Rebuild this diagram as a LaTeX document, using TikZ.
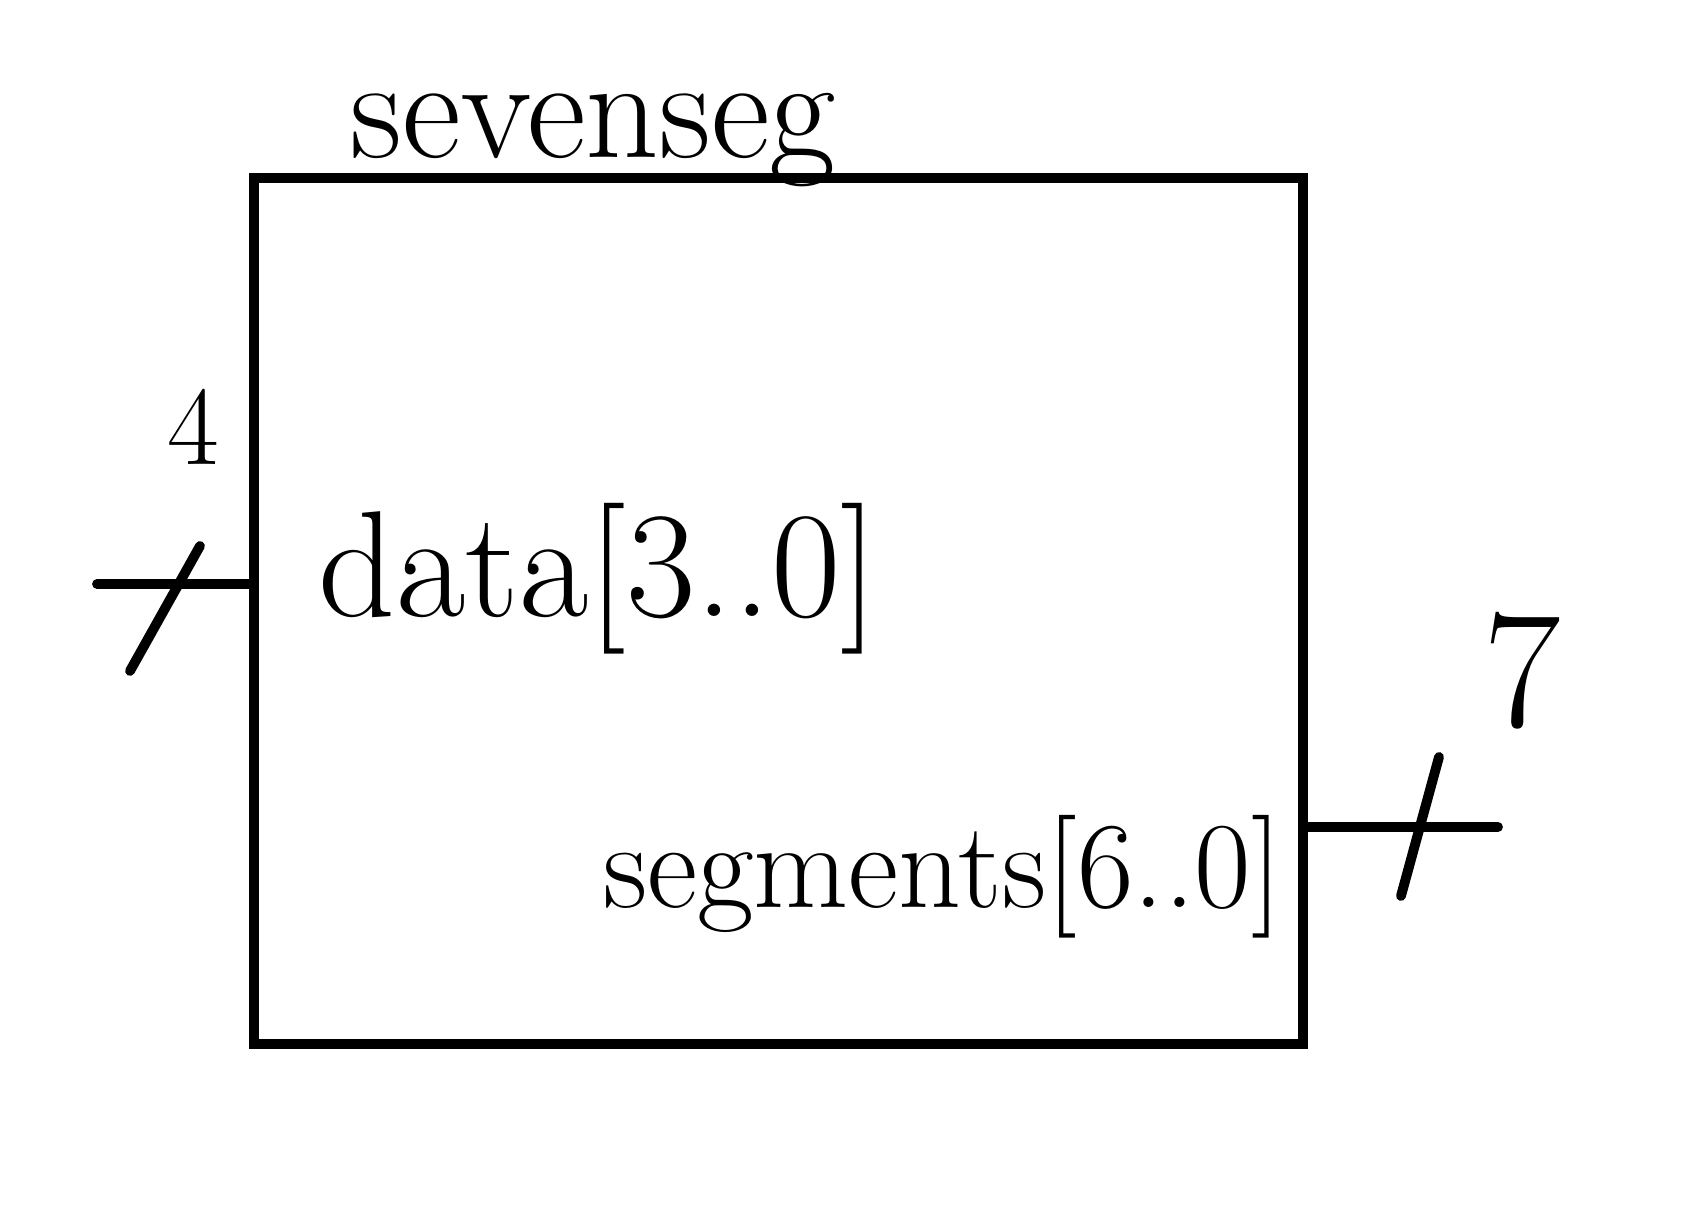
\documentclass[tikz,border=0pt]{standalone}
\usetikzlibrary{positioning}

\begin{document}
\begin{tikzpicture}[line width=2.8pt, line cap=round,
	blockbox/.style={draw, minimum width=10.49cm, minimum height=8.66cm, inner sep=0pt},
	buslbl/.style={inner sep=0pt}]
	\useasboundingbox (0,0) rectangle (16.96,12.16);

	% bloque
	\node[blockbox] (blk) at (7.785,6.05) {};
	\node[buslbl, anchor=base west, font=\fontsize{41}{48}\selectfont] (title) at (3.46,10.58) {sevenseg};

	% entrada
	\coordinate (din) at (0.97,6.32);
	\coordinate (dinslash) at (1.68,6.32);
	\draw (din) -- (blk.west |- din);
	\draw (dinslash) ++(-0.38,-0.87) -- ++(0.70,1.25);
	\node[buslbl, font=\fontsize{32}{38}\selectfont] (dinw) at (1.93,7.89) {4};
	\node[buslbl, anchor=base west, font=\fontsize{43}{50}\selectfont] (dinlbl) at (3.14,5.99) {data[3..0]};

	% salida
	\coordinate (sout) at (14.98,3.89);
	\coordinate (soutslash) at (14.22,3.89);
	\draw (blk.east |- sout) -- (sout);
	\draw (soutslash) ++(-0.21,-0.69) -- ++(0.38,1.39);
	\node[buslbl, font=\fontsize{48}{56}\selectfont] (soutw) at (15.22,5.45) {7};
	\node[buslbl, anchor=base east, font=\fontsize{35}{42}\selectfont] (soutlbl) at (12.87,3.08) {segments[6..0]};
\end{tikzpicture}
\end{document}
